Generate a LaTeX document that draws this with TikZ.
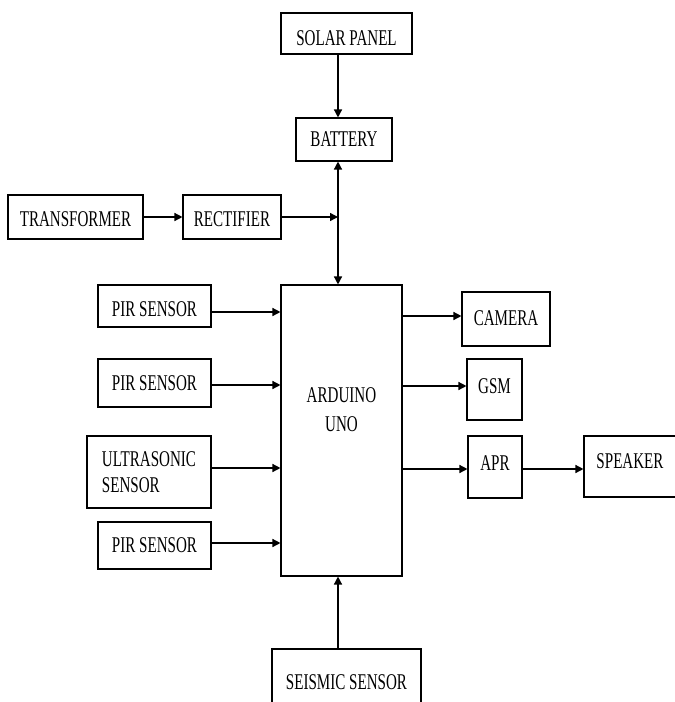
\documentclass[tikz,border=0pt]{standalone}
\usepackage{fontspec}
\setmainfont{Liberation Serif}[FakeStretch=0.67]
\usetikzlibrary{arrows.meta}
\begin{document}
\begin{tikzpicture}[x=1pt,y=-1pt,
  box/.style={draw, line width=1.1pt, inner sep=0pt, align=center, font=\fontsize{22.5}{27}\selectfont},
  lbl/.style={inner sep=0pt, align=center, font=\fontsize{22.5}{29}\selectfont},
  tup/.style={text height=15pt, text depth=#1},
  tdown/.style={text height=#1, text depth=0pt},
  arr/.style={line width=1.4pt, -{Triangle[length=8pt,width=8pt]}},
  darr/.style={line width=1.4pt, {Triangle[length=8pt,width=8pt]}-{Triangle[length=8pt,width=8pt]}}]
\useasboundingbox (0,0) rectangle (675,702);
\clip (0,0) rectangle (675,702);
% boxes
\node[box, tdown=23pt, minimum width=131pt, minimum height=41pt] (solar) at (346.5,33.5) {SOLAR PANEL};
\node[box, minimum width=96pt, minimum height=43pt] (bat) at (344,139.5) {BATTERY};
\node[box, tdown=19pt, minimum width=135pt, minimum height=44pt] (trans) at (75.5,217) {TRANSFORMER};
\node[box, tdown=19pt, minimum width=98pt, minimum height=44pt] (rect) at (232,217) {RECTIFIER};
\node[box, minimum width=121pt, minimum height=291pt] (ard) at (341.5,430.5) {};
\node[lbl] (ardtxt) at (341.5,410) {ARDUINO\\UNO};
\node[box, tdown=21pt, minimum width=113pt, minimum height=42pt] (pir1) at (154.5,306) {PIR SENSOR};
\node[box, minimum width=113pt, minimum height=48pt] (pir2) at (154.5,383) {PIR SENSOR};
\node[box, minimum width=124pt, minimum height=72pt, align=left, font=\fontsize{22.5}{26}\selectfont] (ultra) at (149,472) {ULTRASONIC\\SENSOR};
\node[box, minimum width=113pt, minimum height=47pt] (pir3) at (154.5,545.5) {PIR SENSOR};
\node[box, tup=3pt, minimum width=88pt, minimum height=54pt] (cam) at (506,319) {CAMERA};
\node[box, tup=8pt, minimum width=55pt, minimum height=61pt] (gsm) at (494.5,389.5) {GSM};
\node[box, tup=9pt, minimum width=54pt, minimum height=62pt] (apr) at (495,467) {APR};
\node[box, tup=12pt, minimum width=92pt, minimum height=61pt] (spk) at (630,466.5) {SPEAKER};
\node[box, minimum width=149pt, minimum height=66pt] (seis) at (346.5,682) {SEISMIC SENSOR};
% helper coordinates
\coordinate (busx) at (338,0);
\coordinate (junc) at (338,217);
\path ([yshift=-6pt]pir1.east) coordinate (p1);
\path ([yshift=-2pt]pir2.east) coordinate (p2);
\path ([yshift=4pt]ultra.east) coordinate (p3);
\path ([yshift=2.5pt]pir3.east) coordinate (p4);
\path ([yshift=3pt]cam.west) coordinate (o1);
\path ([yshift=3.5pt]gsm.west) coordinate (o2);
\path ([yshift=-2pt]apr.west) coordinate (o3);
% connectors
\draw[arr] (solar.south -| busx) -- (bat.north -| busx);
\draw[darr] (bat.south -| busx) -- (ard.north -| busx);
\draw[arr] (trans.east) -- (rect.west);
\draw[arr] (rect.east) -- (junc);
\draw[arr] (p1) -- (p1 -| ard.west);
\draw[arr] (p2) -- (p2 -| ard.west);
\draw[arr] (p3) -- (p3 -| ard.west);
\draw[arr] (p4) -- (p4 -| ard.west);
\draw[arr] (o1 -| ard.east) -- (o1);
\draw[arr] (o2 -| ard.east) -- (o2);
\draw[arr] (o3 -| ard.east) -- (o3);
\draw[arr] (o3 -| apr.east) -- (o3 -| spk.west);
\draw[arr] (seis.north -| busx) -- (ard.south -| busx);
\end{tikzpicture}
\end{document}
